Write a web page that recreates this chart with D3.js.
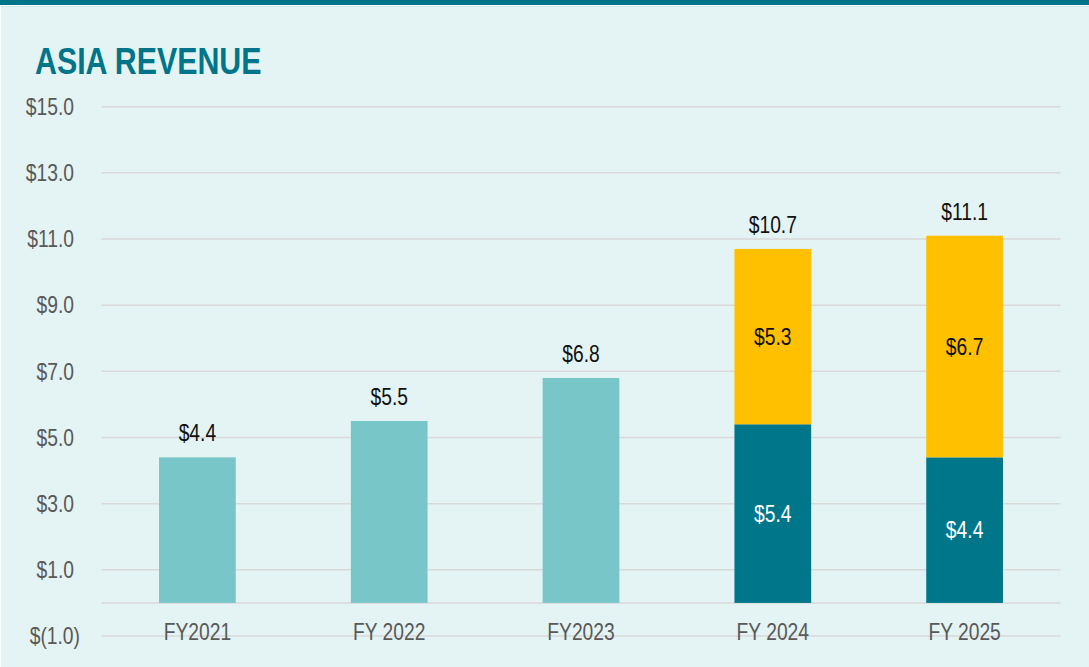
<!DOCTYPE html>
<html>
<head>
<meta charset="utf-8">
<script src="https://cdn.jsdelivr.net/npm/d3@7"></script>
<style>
  html, body { margin: 0; padding: 0; background: #ffffff; }
  svg { display: block; }
  text { font-family: 'Liberation Sans', Arial, sans-serif; }
</style>
</head>
<body>
<svg id="chart" width="1089" height="667"></svg>
<script>
const title = "ASIA REVENUE";
const categories = ["FY2021", "FY 2022", "FY2023", "FY 2024", "FY 2025"];
const baseValues = [4.4, 5.5, 6.8, null, null];      // light teal
const lowerValues = [null, null, null, 5.4, 4.4];    // dark teal
const upperValues = [null, null, null, 5.3, 6.7];    // yellow
const totalValues = [4.4, 5.5, 6.8, 10.7, 11.1];
const tickValues = [-1, 1, 3, 5, 7, 9, 11, 13, 15];

const W = 1089, H = 667;
const SX = 0.82; // narrow font horizontal scale
const svg = d3.select("#chart");

// frame
svg.append("rect").attr("x", 0).attr("y", 0).attr("width", W).attr("height", 5).attr("fill", "#007589");
svg.append("rect").attr("x", 1).attr("y", 6).attr("width", W - 1).attr("height", 1).attr("fill", "#cfe9ea");
svg.append("rect").attr("x", 1).attr("y", 7).attr("width", W - 1).attr("height", H - 7).attr("fill", "#e4f3f3");

const x = d3.scaleBand().domain(categories).range([101.5, 1060.5]).paddingInner(0.6).paddingOuter(0.3);
const y = d3.scaleLinear().domain([-1, 15]).range([636, 106.7]);

function ntext(g, str, px, py, size, anchor, fill, weight) {
  const t = g.append("text")
    .attr("transform", `translate(${px},${py}) scale(${SX},1)`)
    .attr("text-anchor", anchor)
    .attr("font-size", size)
    .attr("fill", fill)
    .text(str);
  if (weight) t.attr("font-weight", weight);
  return t;
}

// title
ntext(svg, title, 35, 74, 37, "start", "#007589", "bold");

// gridlines
const grid = svg.append("g");
[...tickValues, 0].forEach(v => {
  grid.append("line")
    .attr("x1", 101.5).attr("x2", 1060.5)
    .attr("y1", y(v)).attr("y2", y(v))
    .attr("stroke", "#d9d9d9").attr("stroke-width", 1.5);
});

// y axis labels
const fmt = v => v < 0 ? `$(${Math.abs(v).toFixed(1)})` : `$${v.toFixed(1)}`;
const yl = svg.append("g");
tickValues.forEach(v => {
  const xr = v < 0 ? 80 : 74;
  ntext(yl, fmt(v), xr, y(v) + 8.2, 23.5, "end", "#595959");
});

// bars
const bw = x.bandwidth();
const bars = svg.append("g");
categories.forEach((c, i) => {
  if (baseValues[i] != null) {
    bars.append("rect").attr("x", x(c)).attr("width", bw)
      .attr("y", y(baseValues[i])).attr("height", y(0) - y(baseValues[i]))
      .attr("fill", "#79c6c9");
  }
  if (lowerValues[i] != null) {
    bars.append("rect").attr("x", x(c)).attr("width", bw)
      .attr("y", y(lowerValues[i])).attr("height", y(0) - y(lowerValues[i]))
      .attr("fill", "#00768a");
    const top = lowerValues[i] + upperValues[i];
    bars.append("rect").attr("x", x(c)).attr("width", bw)
      .attr("y", y(top)).attr("height", y(lowerValues[i]) - y(top))
      .attr("fill", "#ffc000");
  }
});

// labels
const lab = svg.append("g");
categories.forEach((c, i) => {
  const cx = x(c) + bw / 2;
  ntext(lab, `$${totalValues[i].toFixed(1)}`, cx, y(totalValues[i]) - 16, 23.5, "middle", "#111111");
  if (lowerValues[i] != null) {
    ntext(lab, `$${lowerValues[i].toFixed(1)}`, cx, (y(0) + y(lowerValues[i])) / 2 + 8.2, 23.5, "middle", "#ffffff");
    const top = lowerValues[i] + upperValues[i];
    ntext(lab, `$${upperValues[i].toFixed(1)}`, cx, (y(lowerValues[i]) + y(top)) / 2 + 8.2, 23.5, "middle", "#111111");
  }
  ntext(lab, c, cx, 640, 23.5, "middle", "#595959");
});
</script>
</body>
</html>
